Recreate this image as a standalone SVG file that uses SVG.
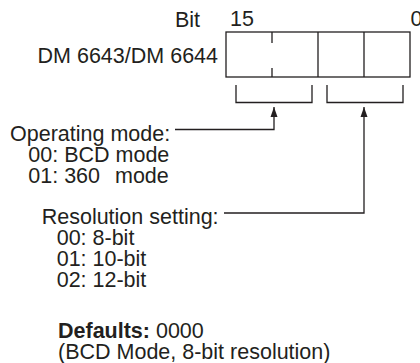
<svg xmlns="http://www.w3.org/2000/svg" width="420" height="363" viewBox="0 0 420 363">
<style>
text{font-family:"Liberation Sans",Arial,sans-serif;font-size:21.5px;fill:#231f20}
.b{font-weight:bold}
.ln{fill:none;stroke:#231f20;stroke-width:1.3}
</style>
<defs>
<marker id="ah" viewBox="0 0 10 10" refX="10" refY="5" markerWidth="10" markerHeight="10" markerUnits="userSpaceOnUse" orient="auto">
<path d="M0,1.5 L10,5 L0,8.5 z" fill="#231f20"/>
</marker>
</defs>
<rect width="420" height="363" fill="#fff"/>
<g id="register">
<text x="200" y="27" text-anchor="end">Bit</text>
<text x="230" y="26">15</text>
<text x="410.5" y="26">0</text>
<text x="218" y="63" text-anchor="end">DM 6643/DM 6644</text>
<rect class="ln" x="226" y="32" width="184" height="45"/>
<path class="ln" d="M272,32V43M272,68V77M318,32V77M364,32V77"/>
</g>
<g id="brackets">
<path class="ln" d="M236,85V102.5H312V85"/>
<path class="ln" d="M327,85V102.5H403V85"/>
</g>
<g id="connectors">
<path class="ln" d="M175,129.5H274V107" marker-end="url(#ah)"/>
<path class="ln" d="M224,213H364V107" marker-end="url(#ah)"/>
</g>
<g id="operating-mode">
<text x="10" y="141">Operating mode:</text>
<text x="28.3" y="162">00: BCD mode</text>
<text x="28.3" y="183">01: 360 <tspan x="115">mode</tspan></text>
</g>
<g id="resolution">
<text x="41.7" y="223.5">Resolution setting:</text>
<text x="56.7" y="244.5">00: 8-bit</text>
<text x="56.7" y="265.5">01: 10-bit</text>
<text x="56.7" y="286.5">02: 12-bit</text>
</g>
<g id="defaults">
<text x="58" y="338"><tspan class="b">Defaults:</tspan> 0000</text>
<text x="58" y="359">(BCD Mode, 8-bit resolution)</text>
</g>
</svg>
